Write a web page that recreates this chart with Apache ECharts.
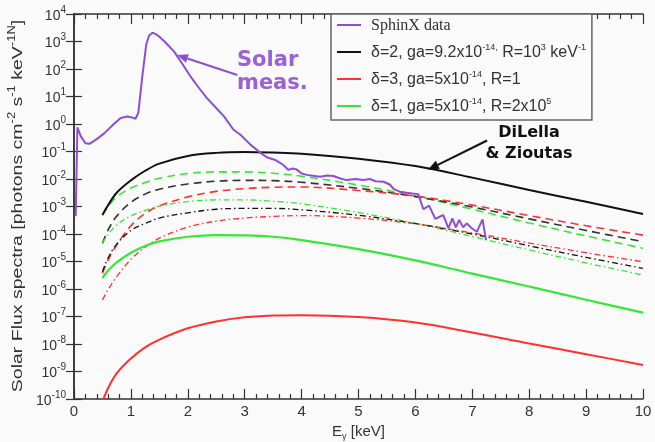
<!DOCTYPE html>
<html>
<head>
<meta charset="utf-8">
<script src="https://cdn.jsdelivr.net/npm/echarts@6/dist/echarts.min.js"></script>
<style>
  html, body { margin: 0; background: #fafafa; }
  #chart { width: 655px; height: 442px; }
</style>
</head>
<body>
<div id="chart"></div>
<script>
// energy grid of the model curves [keV]
var energy = [0.5, 0.6, 0.75, 1, 1.25, 1.5, 2, 2.5, 3, 3.5, 4, 5, 6, 7, 8, 9, 10];

// model curves, log10 of flux
var logBlackSolid  = [-3.31, -2.95, -2.50, -2.05, -1.70, -1.44, -1.16, -1.05, -1.02, -1.04, -1.08, -1.26, -1.53, -1.95, -2.40, -2.83, -3.27];
var logRedSolid    = [-10.1, -9.60, -9.07, -8.53, -8.12, -7.84, -7.43, -7.18, -7.03, -6.96, -6.95, -7.02, -7.22, -7.58, -7.98, -8.37, -8.76];
var logGreenSolid  = [-5.60, -5.33, -5.03, -4.68, -4.44, -4.27, -4.10, -4.04, -4.05, -4.10, -4.22, -4.55, -4.96, -5.44, -5.91, -6.39, -6.86];

var logGreenDash   = [-3.31, -3.00, -2.65, -2.33, -2.13, -1.97, -1.80, -1.74, -1.74, -1.79, -1.90, -2.22, -2.62, -3.10, -3.60, -4.07, -4.52];
var logBlackDash   = [-4.34, -3.85, -3.35, -2.85, -2.55, -2.37, -2.18, -2.08, -2.05, -2.06, -2.12, -2.34, -2.64, -3.02, -3.45, -3.87, -4.28];
var logRedDash     = [-5.43, -4.95, -4.40, -3.70, -3.25, -2.98, -2.65, -2.45, -2.35, -2.30, -2.29, -2.42, -2.62, -2.95, -3.33, -3.70, -4.04];

var logGreenDot    = [-4.34, -4.02, -3.67, -3.34, -3.14, -2.99, -2.82, -2.76, -2.76, -2.81, -2.90, -3.22, -3.61, -4.09, -4.58, -5.05, -5.49];
var logBlackDot    = [-5.37, -4.87, -4.37, -3.87, -3.62, -3.42, -3.23, -3.10, -3.07, -3.07, -3.12, -3.32, -3.62, -4.00, -4.43, -4.85, -5.25];
var logRedDot      = [-6.40, -6.02, -5.55, -4.92, -4.48, -4.15, -3.75, -3.53, -3.42, -3.36, -3.33, -3.42, -3.63, -3.96, -4.33, -4.68, -5.01];

// SphinX measurement [keV], log10 flux
var sphinxE   = [0.03, 0.06, 0.12, 0.2, 0.27, 0.4, 0.53, 0.7, 0.82, 0.94, 1.02, 1.08, 1.13, 1.2, 1.27, 1.32, 1.38, 1.45, 1.5, 1.6, 1.76, 1.9, 2.05, 2.2, 2.34, 2.5, 2.64, 2.8, 2.93, 3.1, 3.27, 3.4, 3.55, 3.68, 3.77, 3.84, 3.91, 4.0, 4.09, 4.2, 4.32, 4.45, 4.56, 4.68, 4.79, 4.95, 5.08, 5.2, 5.3, 5.44, 5.55, 5.62, 5.73, 5.85, 5.95, 6.05, 6.14, 6.24, 6.35, 6.49, 6.58, 6.65, 6.71, 6.77, 6.84, 6.9, 6.99, 7.08, 7.18, 7.24];
var sphinxLog = [-3.35, -0.12, -0.45, -0.70, -0.72, -0.55, -0.34, 0.0, 0.22, 0.27, 0.24, 0.19, 0.40, 1.72, 2.90, 3.22, 3.32, 3.25, 3.17, 2.98, 2.63, 2.20, 1.72, 1.30, 0.93, 0.58, 0.27, -0.20, -0.40, -0.75, -1.04, -1.22, -1.32, -1.49, -1.67, -1.62, -1.65, -1.80, -1.85, -1.88, -1.92, -1.87, -1.89, -1.98, -2.04, -2.00, -2.04, -2.00, -2.08, -2.10, -2.20, -2.37, -2.46, -2.50, -2.53, -2.55, -3.10, -2.97, -3.45, -3.31, -3.79, -3.43, -3.76, -3.49, -3.76, -3.61, -3.79, -3.92, -3.47, -4.22];

var PURPLE = '#8c4fd4', BLACK = '#111111', RED = '#ff3030', GREEN = '#35e835';

function pairs(xs, logs) {
    return xs.map(function (x, i) { return [x, Math.pow(10, logs[i])]; });
}

function model(name, logs, color, width, dash) {
    return {
        name: name, type: 'line', data: pairs(energy, logs),
        smooth: 0.35, symbol: 'none', silent: true, color: color,
        lineStyle: { color: color, width: width, type: dash }
    };
}

var supRich = {
    b: { fontSize: 14, color: '#333', fontFamily: 'Liberation Sans', lineHeight: 18, verticalAlign: 'bottom' },
    s: { fontSize: 10, color: '#333', fontFamily: 'Liberation Sans', lineHeight: 10, verticalAlign: 'top' }
};

var legendRich = {
    f: { fontSize: 16, color: '#333', fontFamily: 'Liberation Sans', lineHeight: 18, verticalAlign: 'bottom', padding: [0, 0, 0, 5] },
    t: { fontSize: 16, color: '#333', fontFamily: 'Liberation Sans', lineHeight: 18, verticalAlign: 'bottom' },
    serif: { fontSize: 16, color: '#333', fontFamily: 'Liberation Serif', lineHeight: 18, verticalAlign: 'bottom', padding: [0, 0, 0, 5] },
    s: { fontSize: 9, color: '#333', fontFamily: 'Liberation Sans', lineHeight: 9, verticalAlign: 'top' }
};

var legendText = {
    'SphinX data': '{serif|SphinX data}',
    'd2': '{f|δ=2, ga=9.2x10}{s|-14,}{t| R=10}{s|3}{t| keV}{s|-1}',
    'd3': '{f|δ=3, ga=5x10}{s|-14}{t|, R=1}',
    'd1': '{f|δ=1, ga=5x10}{s|-14}{t|, R=2x10}{s|5}'
};

var chart = echarts.init(document.getElementById('chart'));

var tickStyle = { color: '#333', width: 1.2 };

var option = {
    backgroundColor: '#fafafa',
    animation: false,
    grid: { left: 74, right: 12, top: 14, bottom: 43, outerBoundsMode: 'none' },
    legend: {
        data: ['SphinX data', 'd2', 'd3', 'd1'],
        orient: 'vertical', left: 331, top: 14,
        padding: [4, 6, 5, 6], itemGap: 9,
        itemWidth: 24, itemHeight: 2, icon: 'rect',
        borderColor: '#666', borderWidth: 1.5, borderRadius: 0,
        backgroundColor: '#fafafa',
        formatter: function (n) { return legendText[n]; },
        textStyle: { rich: legendRich }
    },
    xAxis: [{
        type: 'value', min: 0, max: 10, interval: 1,
        name: '{b|E}{sub|γ}{b| [keV]}', nameLocation: 'middle', nameGap: 25,
        nameTextStyle: { rich: {
            b: { fontSize: 15, color: '#333', fontFamily: 'Liberation Sans', lineHeight: 17, verticalAlign: 'top' },
            sub: { fontSize: 9, color: '#333', fontFamily: 'Liberation Sans', lineHeight: 9, verticalAlign: 'bottom' }
        } },
        axisLine: { lineStyle: { color: '#333', width: 1.5 } },
        axisTick: { inside: true, length: 10, lineStyle: tickStyle },
        minorTick: { show: true, splitNumber: 5, length: 5, lineStyle: tickStyle },
        axisLabel: { fontSize: 15, color: '#333', fontFamily: 'Liberation Sans', margin: 5 },
        splitLine: { show: false }
    }, {
        type: 'value', min: 0, max: 10, interval: 1, position: 'top',
        axisLine: { lineStyle: { color: '#333', width: 1.5 } },
        axisTick: { inside: true, length: 10, lineStyle: tickStyle },
        minorTick: { show: true, splitNumber: 5, length: 5, lineStyle: tickStyle },
        axisLabel: { show: false },
        splitLine: { show: false }
    }],
    yAxis: [{
        type: 'log', logBase: 10, min: 1e-10, max: 1e4, interval: 1,
        axisLine: { lineStyle: { color: '#333', width: 1.5 } },
        axisTick: { inside: true, length: 8, lineStyle: tickStyle },
        axisLabel: {
            margin: 8, showMinLabel: true, showMaxLabel: true,
            formatter: function (v) { return '{b|10}{s|' + Math.round(Math.log10(v)) + '}'; },
            rich: supRich
        },
        splitLine: { show: false }
    }, {
        type: 'log', logBase: 10, min: 1e-10, max: 1e4, interval: 1, position: 'right',
        axisLine: { lineStyle: { color: '#333', width: 1.5 } },
        axisTick: { inside: true, length: 8, lineStyle: tickStyle },
        axisLabel: { show: false },
        splitLine: { show: false }
    }],
    series: [
        model('gd', logGreenDash, GREEN, 1.6, [8, 5]),
        model('bd', logBlackDash, '#333', 1.6, [8, 5]),
        model('rd', logRedDash, RED, 1.6, [8, 5]),
        model('gdd', logGreenDot, GREEN, 1.3, [6, 3, 1.5, 3]),
        model('bdd', logBlackDot, BLACK, 1.3, [6, 3, 1.5, 3]),
        model('rdd', logRedDot, RED, 1.3, [6, 3, 1.5, 3]),
        model('d2', logBlackSolid, BLACK, 2, 'solid'),
        model('d3', logRedSolid, RED, 2, 'solid'),
        model('d1', logGreenSolid, GREEN, 2.2, 'solid'),
        {
            name: 'SphinX data', type: 'line', data: pairs(sphinxE, sphinxLog),
            symbol: 'none', silent: true, color: PURPLE,
            lineStyle: { color: PURPLE, width: 2 }
        }
    ]
};
chart.setOption(option);

// annotations, anchored in data coordinates
function px(x, logY) { return chart.convertToPixel({ gridIndex: 0 }, [x, Math.pow(10, logY)]); }
function arrow(from, to, color) {
    var ang = Math.atan2(to[1] - from[1], to[0] - from[0]), L = 11, W = 4.5;
    var bx = to[0] - L * Math.cos(ang), by = to[1] - L * Math.sin(ang);
    var nx = -Math.sin(ang) * W, ny = Math.cos(ang) * W;
    return [
        { type: 'line', shape: { x1: from[0], y1: from[1], x2: bx, y2: by }, style: { stroke: color, lineWidth: 2 } },
        { type: 'polygon', shape: { points: [to, [bx + nx, by + ny], [bx - nx, by - ny]] }, style: { fill: color } }
    ];
}
var solarTip = px(1.81, 2.51), solarTail = px(2.87, 1.78);
var dlTip = px(6.22, -1.66), dlTail = px(7.26, -0.6);
var g = [].concat(arrow(solarTail, solarTip, PURPLE), arrow(dlTail, dlTip, BLACK));
g.push({ type: 'text', left: 237, top: 49, style: { text: 'Solar\nmeas.', fill: '#9b5fd6', font: 'bold 21px "DejaVu Sans"', lineHeight: 23, textAlign: 'left' } });
g.push({ type: 'text', left: 482, top: 122, style: { text: 'DiLella\n& Zioutas', fill: '#111', font: 'bold 16px "DejaVu Sans"', lineHeight: 21, textAlign: 'center', width: 94 } });

// y-axis title: the original lettering is drawn stretched along its length
g.push({
    type: 'text', x: 16, y: 206, rotation: Math.PI / 2, scaleX: 1.3,
    style: {
        text: '{b|Solar Flux spectra [photons cm}{s|-2}{b| s}{s|-1}{b| keV}{s|-1N}{b|]}',
        align: 'center', verticalAlign: 'middle',
        rich: {
            b: { fontSize: 15, fontFamily: 'Liberation Sans', fill: '#333', lineHeight: 18, verticalAlign: 'bottom' },
            s: { fontSize: 10, fontFamily: 'Liberation Sans', fill: '#333', lineHeight: 10, verticalAlign: 'top' }
        }
    }
});
chart.setOption({ graphic: g });
</script>
</body>
</html>
